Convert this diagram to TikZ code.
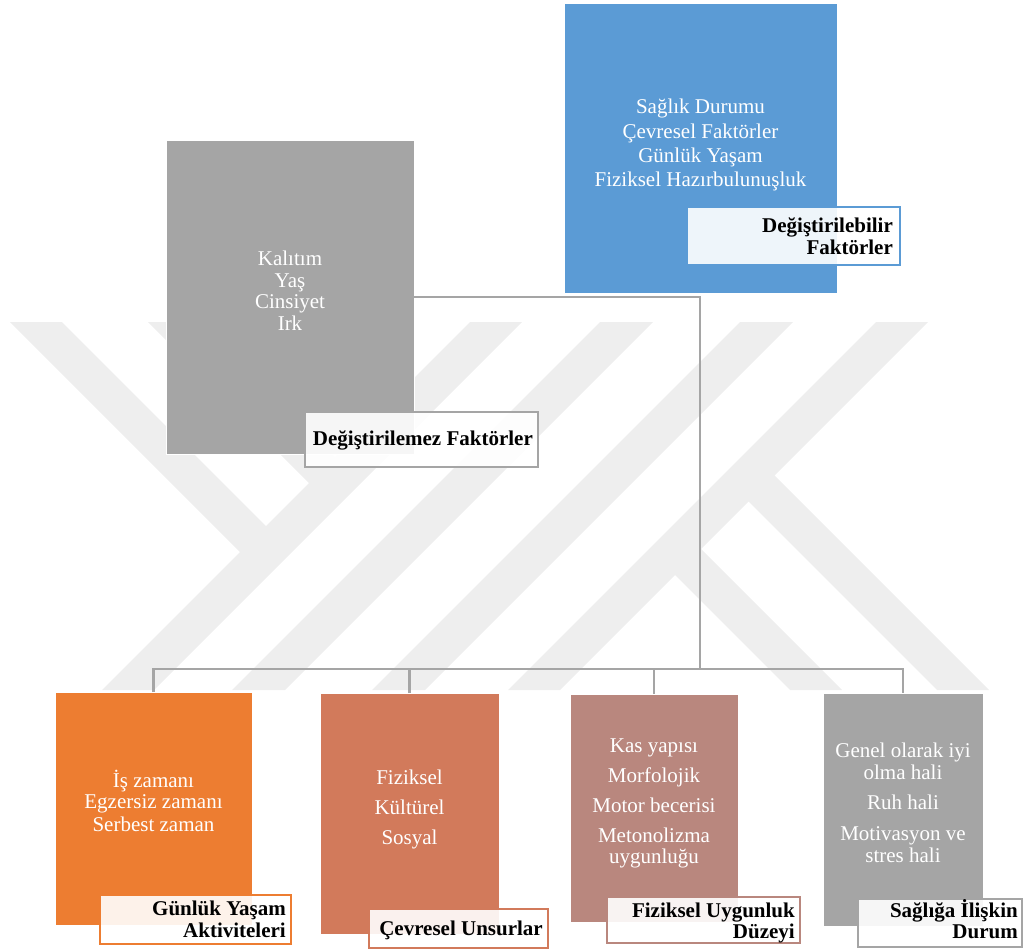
\documentclass[tikz,border=0pt]{standalone}
\usepackage{fontspec}
\setmainfont{Liberation Serif}
\definecolor{cblue}{HTML}{5B9BD5}
\definecolor{cgray}{HTML}{A5A5A5}
\definecolor{corange}{HTML}{ED7D31}
\definecolor{csalmon}{HTML}{D27A5B}
\definecolor{crosy}{HTML}{B9877E}
\definecolor{wm}{HTML}{EEEEEE}
\begin{document}
\begin{tikzpicture}[x=1pt,y=-1pt,
  box/.style={rectangle, draw=white, line width=0.8pt, inner sep=0pt, outer sep=0pt},
  lbl/.style={rectangle, fill=white, fill opacity=0.9, text opacity=1, line width=2pt, inner sep=0pt, outer sep=0pt},
  body/.style={text=white, font=\fontsize{21}{24}\selectfont, anchor=base, inner sep=0pt},
  ltxt/.style={text=black, font=\bfseries\fontsize{21}{24}\selectfont, anchor=base east, inner sep=0pt},
  conn/.style={draw=cgray, line width=2.5pt}]
\useasboundingbox (0,0) rectangle (1024,950);
% watermark
\begin{scope}
\clip (0,322) rectangle (1024,690);
\fill[wm] (470,322) -- (522,322) -- (154,690) -- (102,690) -- cycle;
\fill[wm] (600,322) -- (653,322) -- (285,690) -- (232,690) -- cycle;
\fill[wm] (740,322) -- (793,322) -- (425,690) -- (372,690) -- cycle;
\fill[wm] (876,322) -- (928,322) -- (560,690) -- (508,690) -- cycle;
\fill[wm] (10,322) -- (62,322) -- (279,539) -- (253,565) -- cycle;
\fill[wm] (148,322) -- (200,322) -- (348,470) -- (322,496) -- cycle;
\fill[wm] (761,462) -- (989,690) -- (937,690) -- (735,488) -- cycle;
\fill[wm] (688,536) -- (842,690) -- (790,690) -- (662,562) -- cycle;
\end{scope}
% main boxes
\node[box, fill=cblue, minimum width=273pt, minimum height=290pt] (blue) at (700.5,148) {};
\node[box, fill=cgray, minimum width=248pt, minimum height=314pt] (gray) at (290,297) {};
\node[box, fill=corange, minimum width=197pt, minimum height=233pt] (c1) at (153.5,808.5) {};
\node[box, fill=csalmon, minimum width=179pt, minimum height=241pt] (c2) at (409.5,813.5) {};
\node[box, fill=crosy, minimum width=168pt, minimum height=228pt] (c3) at (654,808) {};
\node[box, fill=cgray, minimum width=160pt, minimum height=233pt] (c4) at (903,809.5) {};
% connectors
\coordinate (bus) at (700,669);
\draw[conn] (gray.east) -| (bus);
\draw[conn] (c1.north) |- (bus) -| (c4.north);
\draw[conn] (c2.north) -- (c2.north |- bus);
\draw[conn] (c3.north) -- (c3.north |- bus);
% label boxes
\node[lbl, draw=cblue, minimum width=213pt, minimum height=58pt] (lblue) at (793.5,236) {};
\node[lbl, draw=cgray, minimum width=233pt, minimum height=55pt] (lgray) at (421.5,439.5) {};
\node[lbl, draw=corange, minimum width=191pt, minimum height=49pt] (l1) at (195.5,919.5) {};
\node[lbl, draw=csalmon, minimum width=179pt, minimum height=39pt] (l2) at (458.5,928.5) {};
\node[lbl, draw=crosy, minimum width=193pt, minimum height=46pt] (l3) at (703.5,920) {};
\node[lbl, draw=cgray, minimum width=164pt, minimum height=48pt] (l4) at (940,923) {};
% body texts
\node[body] (ba) at (700.5,113) {Sağlık Durumu};
\node[body] (bb) at (700.5,138) {Çevresel Faktörler};
\node[body] (bc) at (700.5,162) {Günlük Yaşam};
\node[body] (bd) at (700.5,186) {Fiziksel Hazırbulunuşluk};
\node[body] (ga) at (290,265) {Kalıtım};
\node[body] (gb) at (290,287) {Yaş};
\node[body] (gc) at (290,308) {Cinsiyet};
\node[body] (gd) at (290,330) {Irk};
\node[body] (oa) at (153.5,787) {İş zamanı};
\node[body] (ob) at (153.5,808) {Egzersiz zamanı};
\node[body] (oc) at (153.5,831) {Serbest zaman};
\node[body] (sa) at (409.5,784) {Fiziksel};
\node[body] (sb) at (409.5,814) {Kültürel};
\node[body] (sc) at (409.5,844) {Sosyal};
\node[body] (ra) at (654,752) {Kas yapısı};
\node[body] (rb) at (654,782) {Morfolojik};
\node[body] (rc) at (654,812) {Motor becerisi};
\node[body] (rd) at (654,842) {Metonolizma};
\node[body] (re) at (654,863) {uygunluğu};
\node[body] (da) at (903,757) {Genel olarak iyi};
\node[body] (db) at (903,779) {olma hali};
\node[body] (dc) at (903,809) {Ruh hali};
\node[body] (dd) at (903,840) {Motivasyon ve};
\node[body] (de) at (903,862) {stres hali};
% label texts
\node[ltxt] (tba) at (893,232) {Değiştirilebilir};
\node[ltxt] (tbb) at (893,254) {Faktörler};
\node[ltxt] (tga) at (533,445) {Değiştirilemez Faktörler};
\node[ltxt] (t1a) at (286,915) {Günlük Yaşam};
\node[ltxt] (t1b) at (286,937) {Aktiviteleri};
\node[ltxt] (t2a) at (543,935) {Çevresel Unsurlar};
\node[ltxt] (t3a) at (795,917) {Fiziksel Uygunluk};
\node[ltxt] (t3b) at (795,938) {Düzeyi};
\node[ltxt] (t4a) at (1018,917) {Sağlığa İlişkin};
\node[ltxt] (t4b) at (1018,938) {Durum};
\end{tikzpicture}
\end{document}
